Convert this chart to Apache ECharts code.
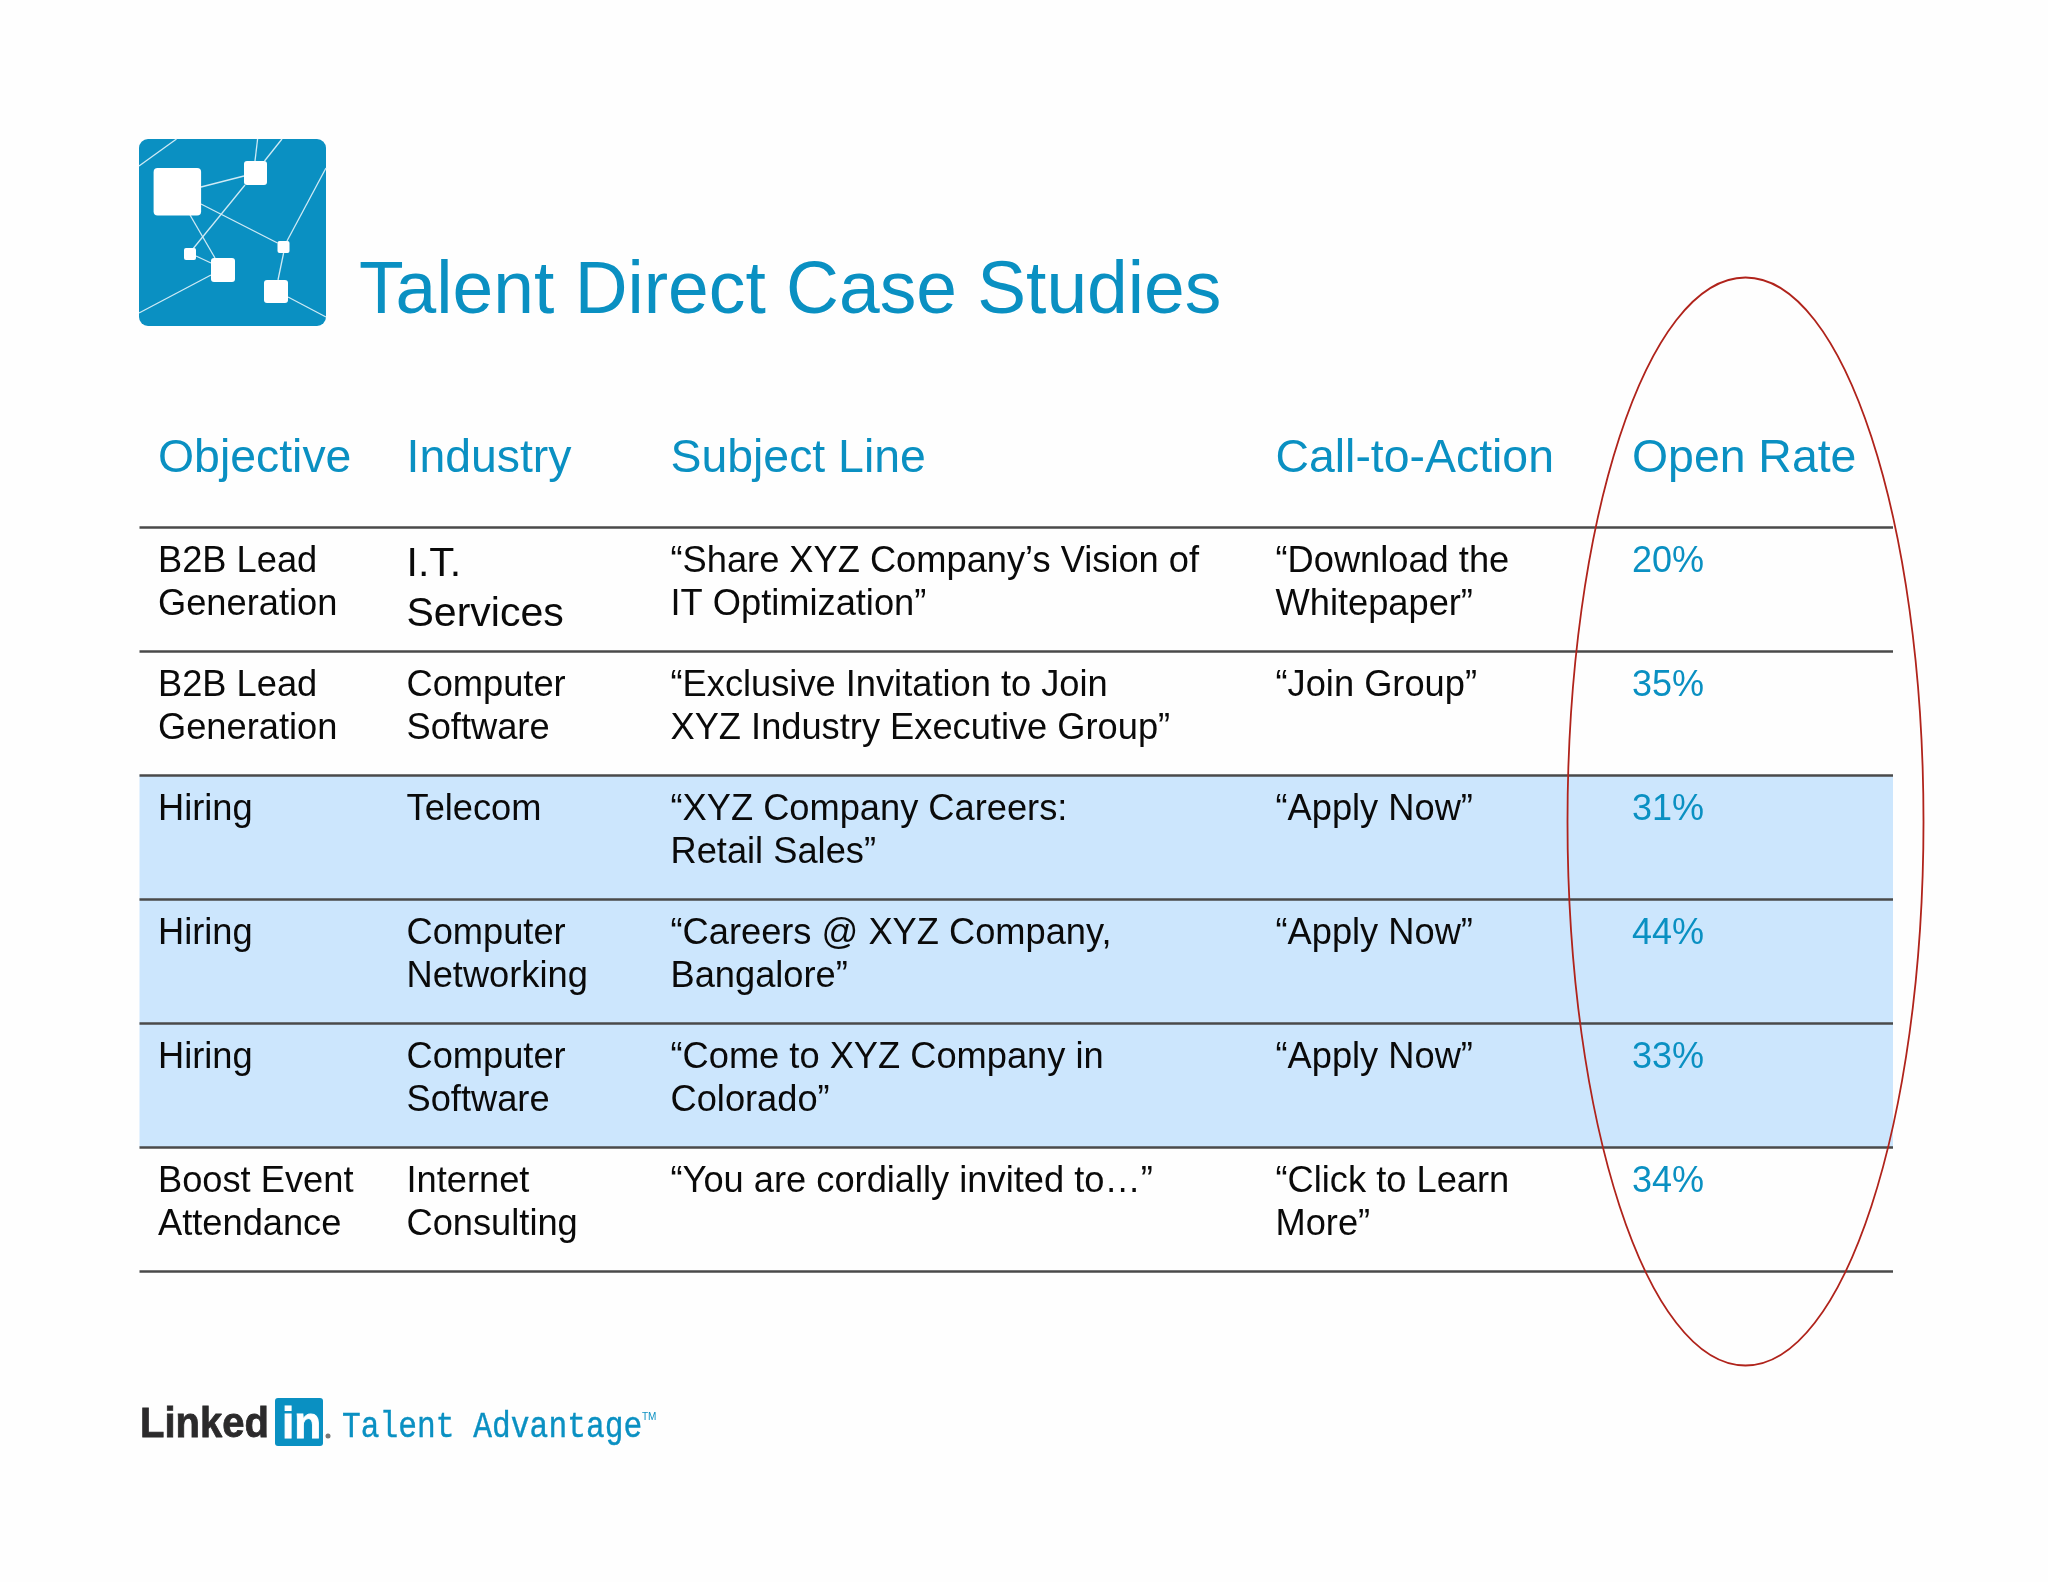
<!DOCTYPE html>
<html><head><meta charset="utf-8">
<style>html,body{margin:0;padding:0;background:#fefefe}#c{width:2048px;height:1582px}</style>
<script src="https://cdn.jsdelivr.net/npm/echarts@6/dist/echarts.min.js"></script>
</head><body><div id="c"></div>
<script>
const headers = ['Objective', 'Industry', 'Subject Line', 'Call-to-Action', 'Open Rate'];
const objectives = ['B2B Lead\nGeneration', 'B2B Lead\nGeneration', 'Hiring', 'Hiring', 'Hiring', 'Boost Event\nAttendance'];
const industries = ['I.T.\nServices', 'Computer\nSoftware', 'Telecom', 'Computer\nNetworking', 'Computer\nSoftware', 'Internet\nConsulting'];
const subjects = [
  '“Share XYZ Company’s Vision of\nIT Optimization”',
  '“Exclusive Invitation to Join\nXYZ Industry Executive Group”',
  '“XYZ Company Careers:\nRetail Sales”',
  '“Careers @ XYZ Company,\nBangalore”',
  '“Come to XYZ Company in\nColorado”',
  '“You are cordially invited to…”'
];
const actions = ['“Download the\nWhitepaper”', '“Join Group”', '“Apply Now”', '“Apply Now”', '“Apply Now”', '“Click to Learn\nMore”'];
const openRates = [20, 35, 31, 44, 33, 34];
const hiringRows = [2, 3, 4];

const FONT = '"Liberation Sans", Arial, sans-serif';
const BLUE = '#0a90c2';
const TABLE = {left: 139.5, top: 527, width: 1753.5, height: 744};
const colStart = [18.5, 267, 531, 1136, 1492.5];
const rows = objectives.map((_, i) => i);
const columns = [objectives, industries, subjects, actions, openRates.map(v => v + '%')];

const chart = echarts.init(document.getElementById('c'), null, {renderer: 'canvas', width: 2048, height: 1582});

function logoGraphics() {
  const lines = [
    [176.5,139,139,166],[257.6,139,255,161],[282,139,264.5,161],[244,176,201,187],
    [245,185,192,250],[190,215,215,258],[196,256,211,263],[201,204,277.5,243],
    [326,168,287,241],[283.6,253,278,280],[211,275,139,313],[288,297,326,317]
  ];
  const squares = [
    [153.6,168,47.5,47.5,4],[244,161,23,24,3],[184,248,12,12,2],
    [211,258,24,24,3],[277.5,241,12,12,2],[264,280,24,23,3]
  ];
  const out = [{type:'rect', shape:{x:139,y:139,width:187,height:187,r:9}, style:{fill:BLUE}}];
  lines.forEach(l => out.push({type:'line', shape:{x1:l[0],y1:l[1],x2:l[2],y2:l[3]}, style:{stroke:'#cfeaf5',lineWidth:1.3}}));
  squares.forEach(s => out.push({type:'rect', shape:{x:s[0],y:s[1],width:s[2],height:s[3],r:s[4]}, style:{fill:'#fff'}}));
  return out;
}

chart.setOption({
  animation: false,
  backgroundColor: '#fefefe',
  title: {
    text: 'Talent Direct Case Studies', left: 354, top: 251,
    textStyle: {color: BLUE, fontFamily: FONT, fontSize: 73.2, fontWeight: 'normal'}
  },
  tooltip: {show: false},
  grid: Object.assign({containLabel: false}, TABLE),
  xAxis: {type: 'value', min: 0, max: TABLE.width, show: false},
  yAxis: {
    type: 'category', inverse: true, data: rows, z: 5,
    axisLine: {show: false}, axisTick: {show: false}, axisLabel: {show: false},
    splitLine: {show: true, interval: 0, lineStyle: {color: '#4a4a4a', width: 2.5}}
  },
  series: [
    {
      type: 'bar', barWidth: '100%', silent: true,
      itemStyle: {color: '#cce6fd'},
      data: rows.map(r => hiringRows.includes(r) ? TABLE.width : null)
    },
    {
      type: 'custom', silent: true, z: 6, clip: false,
      data: headers.map((h, i) => [colStart[i], 0, h]),
      renderItem(params, api) {
        const p = api.coord([api.value(0), 0]);
        return {type: 'text', style: {
          text: headers[params.dataIndex], x: p[0], y: p[1] - 130,
          align: 'left', verticalAlign: 'middle',
          font: '46.4px ' + FONT, fill: BLUE
        }};
      }
    },
    {
      type: 'custom', silent: true, z: 6, clip: false,
      data: rows.map(r => [0, r]),
      renderItem(params, api) {
        const r = api.value(1);
        const c = api.coord([0, r]);
        const top = c[1] - api.size([0, 1])[1] / 2;
        return {type: 'group', children: columns.map((col, i) => {
          const big = i === 1 && r === 0;
          return {type: 'text', style: {
            text: col[r], x: api.coord([colStart[i], r])[0], y: top + (i === 4 ? 14 : 13),
            align: 'left', verticalAlign: 'top', lineHeight: big ? 50 : 43,
            fontFamily: FONT, fontSize: big ? 41 : (i === 4 ? 36 : 36.25),
            fill: i === 4 ? BLUE : '#0a0a0a'
          }};
        })};
      }
    }
  ],
  graphic: [
    ...logoGraphics(),
    {type: 'ellipse', z: 20, shape: {cx: 1745.5, cy: 821.5, rx: 178, ry: 544},
     style: {fill: 'none', stroke: '#b0231b', lineWidth: 1.8}},
    {type: 'text', x: 140, y: 1425, scaleX: 0.93, style: {text: 'Linked', x: 0, y: 0, verticalAlign: 'middle',
      font: 'bold 43px ' + FONT, fill: '#2b2a2b', stroke: '#2b2a2b', lineWidth: 0.8}},
    {type: 'rect', shape: {x: 275, y: 1398, width: 48, height: 48, r: 3}, style: {fill: BLUE}},
    {type: 'text', style: {text: 'in', x: 282, y: 1426, verticalAlign: 'middle',
      font: 'bold 44px ' + FONT, fill: '#fff', stroke: '#fff', lineWidth: 0.8}},
    {type: 'circle', shape: {cx: 328, cy: 1436, r: 2.5}, style: {fill: '#777'}},
    {type: 'text', x: 342, y: 1427, scaleX: 0.845, style: {text: 'Talent Advantage', x: 0, y: 0, verticalAlign: 'middle',
      font: '37px "Liberation Mono", monospace', fill: BLUE, stroke: BLUE, lineWidth: 0.4}},
    {type: 'text', style: {text: 'TM', x: 642, y: 1417, verticalAlign: 'middle',
      font: '10px ' + FONT, fill: BLUE}}
  ]
});
</script></body></html>
